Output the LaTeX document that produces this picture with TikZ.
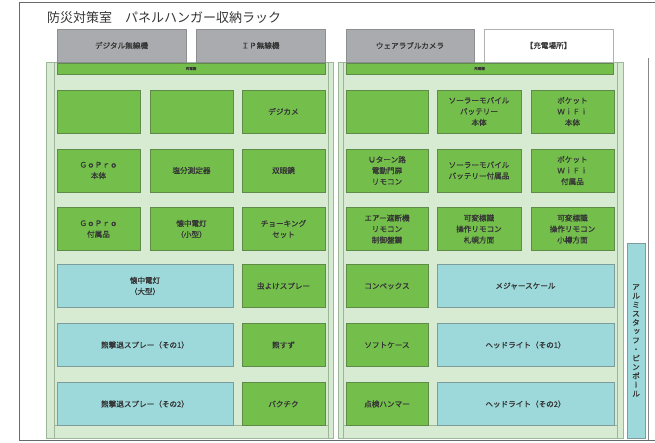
\documentclass[tikz,border=0pt]{standalone}
\usepackage{fontspec}
\setmainfont{Noto Sans CJK JP}
\newfontfamily\vfont[RawFeature=+vert,FakeBold=0.8]{Noto Sans CJK JP}
\newfontfamily\boxfont[FakeBold=0.8]{Noto Sans CJK JP}
\definecolor{gfill}{HTML}{74BF4C}
\definecolor{gline}{HTML}{5E8C48}
\definecolor{bfill}{HTML}{9DD8DA}
\definecolor{bline}{HTML}{7E9C9C}
\definecolor{pfill}{HTML}{D6EBD1}
\definecolor{pline}{HTML}{9DB598}
\definecolor{grfill}{HTML}{A9ABAE}
\definecolor{grline}{HTML}{8C8E91}
\definecolor{txt}{HTML}{353535}
\definecolor{frame}{HTML}{6A6A6A}
\tikzset{
  base/.style={inner sep=0pt, align=center, text=txt, font=\boxfont\fontsize{7.6}{11}\selectfont},
  gbox/.style={base, draw=gline, fill=gfill, line width=0.9pt, minimum width=83pt, minimum height=43pt},
  bbox/.style={base, draw=bline, fill=bfill, line width=0.9pt, minimum width=177pt, minimum height=43pt},
  graybox/.style={base, draw=grline, fill=grfill, line width=0.7pt, minimum width=129pt, minimum height=33pt},
  whitebox/.style={graybox, fill=white, draw=grline!70},
  gbar/.style={base, draw=gline, fill=gfill, line width=0.8pt, minimum height=11pt, font=\boxfont\fontsize{3.5}{4}\selectfont},
  panel/.style={draw=pline, fill=pfill, line width=0.7pt},
  post/.style={draw=pline, line width=0.7pt},
  frameline/.style={draw=frame, line width=0.9pt},
}
\begin{document}
\begin{tikzpicture}[x=1pt, y=-1pt]
\useasboundingbox (0,0) rectangle (655,442);
% outer frame
\coordinate (ftr) at (655,2);
\coordinate (ftl) at (19,2);
\coordinate (fbl) at (19,440);
\coordinate (fbr) at (655,440);
\draw[frameline] (ftr) -- (ftl) -- (fbl) -- (fbr);
\coordinate (rpt) at (648,58);
\coordinate (rpb) at (648,440);
\draw[draw=frame!80, line width=0.8pt] (rpt) -- (rpb);
% title
\node[anchor=west, text=txt, inner sep=0pt, font=\fontsize{13}{15}\selectfont] (title) at (47,18) {防災対策室　パネルハンガー収納ラック};
% panels
\fill[panel] (46,62) rectangle (333,438);
\fill[panel] (338,62) rectangle (623,438);
\draw[post] (54,62) -- (54,438);
\draw[post] (328,62) -- (328,438);
\draw[post] (343,62) -- (343,438);
\draw[post] (617,62) -- (617,438);
\draw[post] (54,425) -- (328,425);
\draw[post] (343,425) -- (617,425);
% top gray boxes
\node[graybox] (dig) at (121.5,45.5) {デジタル無線機};
\node[graybox] (ip) at (260.5,45.5) {ＩＰ無線機};
\node[graybox, minimum width=128pt] (wear) at (410,45.5) {ウェアラブルカメラ};
\node[whitebox, minimum width=129pt] (chg) at (548.5,45.5) {【充電場所】};
% green bars
\node[gbar, minimum width=268pt] (barL) at (191,68.5) {充電棚};
\node[gbar, minimum width=267pt] (barR) at (479.5,68.5) {充電棚};
% left panel
\node[gbox] (l11) at (98.5,111.5) {};
\node[gbox] (l12) at (191.5,111.5) {};
\node[gbox] (l13) at (283.5,111.5) {デジカメ};
\node[gbox] (l21) at (98.5,170.5) {ＧｏＰｒｏ\\本体};
\node[gbox] (l22) at (191.5,170.5) {塩分測定器};
\node[gbox] (l23) at (283.5,170.5) {双眼鏡};
\node[gbox] (l31) at (98.5,229) {ＧｏＰｒｏ\\付属品};
\node[gbox] (l32) at (191.5,229) {懐中電灯\\（小型）};
\node[gbox] (l33) at (283.5,229) {チョーキング\\セット};
\node[bbox, minimum width=176pt] (l41) at (145,286) {懐中電灯\\（大型）};
\node[gbox] (l43) at (283.5,286) {虫よけスプレー};
\node[bbox, minimum width=176pt] (l51) at (145,345) {熊撃退スプレー（その1）};
\node[gbox] (l53) at (283.5,345) {熊すず};
\node[bbox, minimum width=176pt] (l61) at (145,404) {熊撃退スプレー（その2）};
\node[gbox] (l63) at (283.5,404) {バクチク};
% right panel
\node[gbox, minimum width=82pt] (r11) at (387,111.5) {};
\node[gbox, minimum width=84pt] (r12) at (479,111.5) {ソーラーモバイル\\バッテリー\\本体};
\node[gbox] (r13) at (572.5,111.5) {ポケット\\ＷｉＦｉ\\本体};
\node[gbox, minimum width=82pt] (r21) at (387,170.5) {Ｕターン路\\電動門扉\\リモコン};
\node[gbox, minimum width=84pt] (r22) at (479,170.5) {ソーラーモバイル\\バッテリー付属品};
\node[gbox] (r23) at (572.5,170.5) {ポケット\\ＷｉＦｉ\\付属品};
\node[gbox, minimum width=82pt] (r31) at (387,229) {エアー遮断機\\リモコン\\制御盤鍵};
\node[gbox, minimum width=84pt] (r32) at (479,229) {可変標識\\操作リモコン\\札幌方面};
\node[gbox] (r33) at (572.5,229) {可変標識\\操作リモコン\\小樽方面};
\node[gbox, minimum width=82pt] (r41) at (387,286) {コンベックス};
\node[bbox] (r42) at (525.5,286) {メジャースケール};
\node[gbox, minimum width=82pt] (r51) at (387,345) {ソフトケース};
\node[bbox] (r52) at (525.5,345) {ヘッドライト（その1）};
\node[gbox, minimum width=82pt] (r61) at (387,404) {点検ハンマー};
\node[bbox] (r62) at (525.5,404) {ヘッドライト（その2）};
% pole
\node[base, draw=bline, fill=bfill, line width=0.8pt, minimum width=18pt, minimum height=195pt, font=\vfont\fontsize{7.8}{8.9}\selectfont] (pole) at (636,340.5) {ア\\ル\\ミ\\ス\\タ\\ッ\\フ\\・\\ピ\\ン\\ポ\\ー\\ル};
\end{tikzpicture}
\end{document}
